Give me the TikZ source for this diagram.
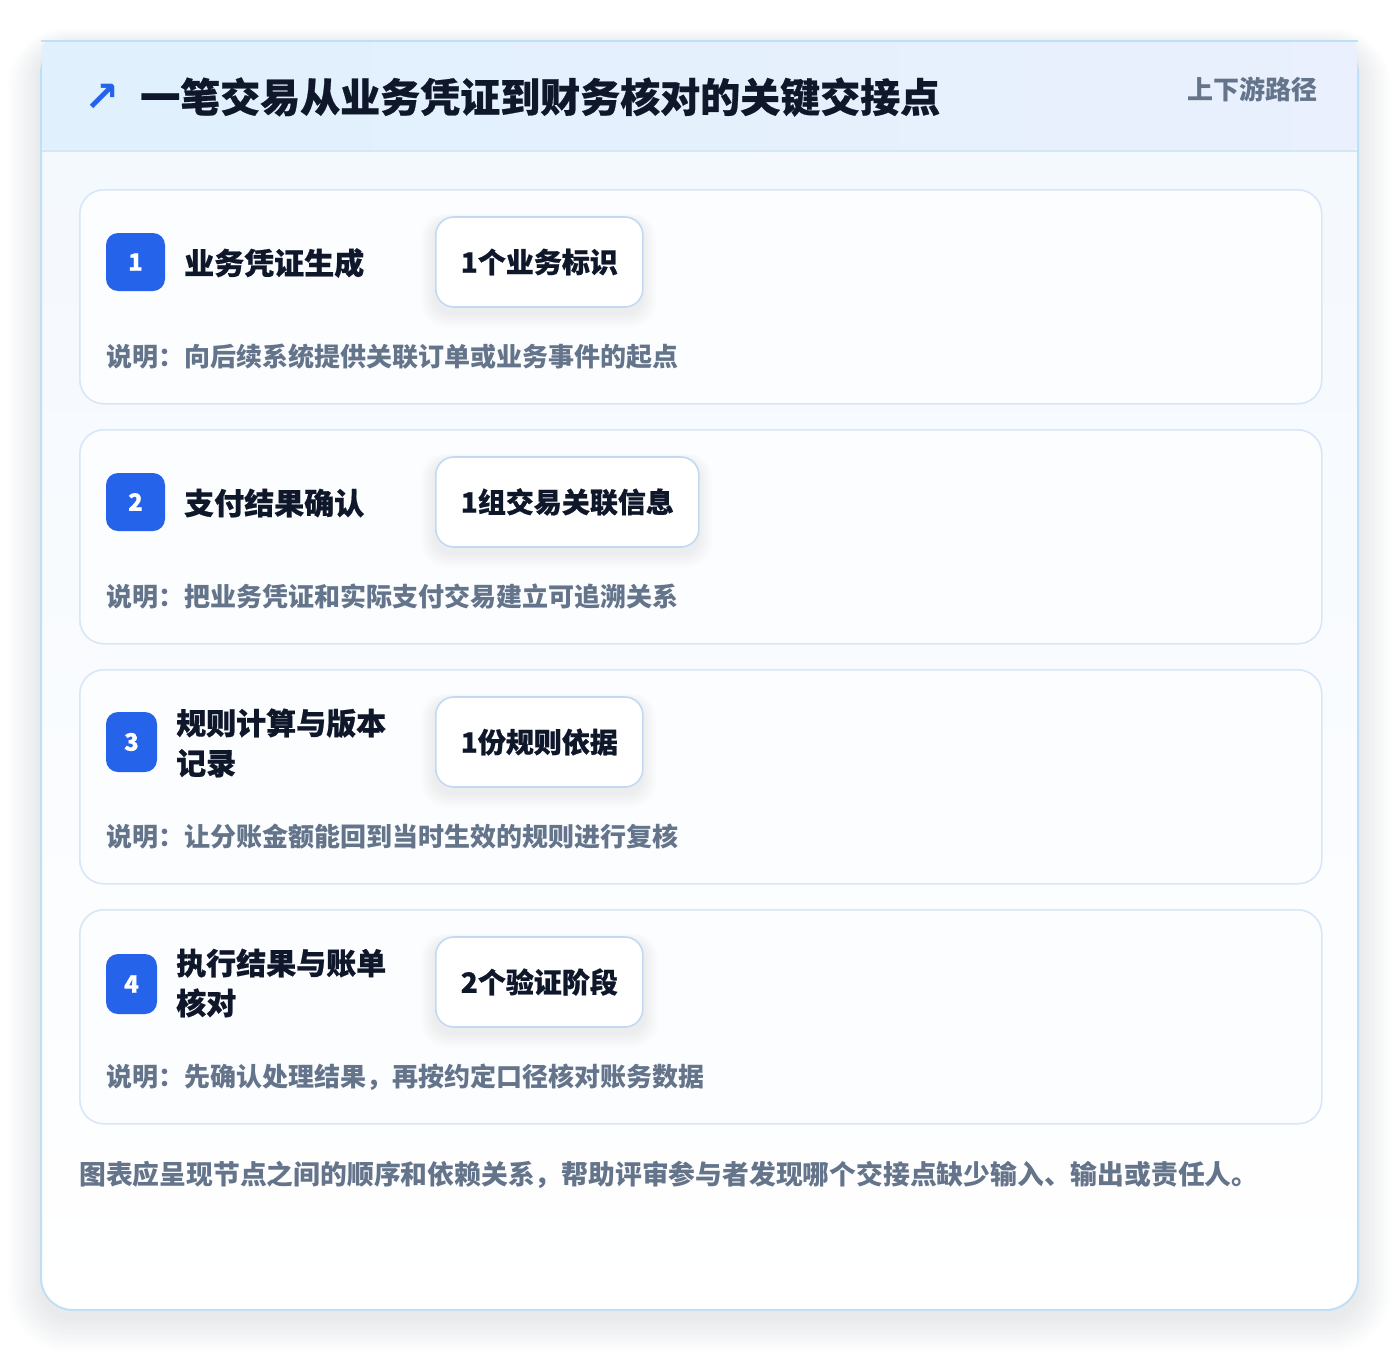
\documentclass[tikz,border=0pt]{standalone}
\usepackage{fontspec}
\setmainfont{Noto Sans CJK SC}
\newfontfamily\heavyfont{Noto Sans CJK SC}[BoldFeatures={FakeBold=0.6}]
\newfontfamily\symfont{DejaVu Sans}
\definecolor{titlecol}{HTML}{0F172A}
\definecolor{graytext}{HTML}{64748B}
\definecolor{accent}{HTML}{2563EB}
\definecolor{outerborder}{HTML}{BDE0F6}
\definecolor{hdrL}{HTML}{E0F0FD}
\definecolor{hdrR}{HTML}{EAF0FD}
\definecolor{hdrline}{HTML}{D3E7F7}
\definecolor{cardborder}{HTML}{D8E7F7}
\definecolor{cardfill}{HTML}{FBFDFF}
\definecolor{chipborder}{HTML}{C3D9F3}
\definecolor{outerTop}{HTML}{F3F8FE}
\definecolor{shadowcol}{HTML}{334155}
\tikzset{
  card/.style={draw=cardborder, line width=1.6pt, fill=cardfill, rounded corners=24pt,
    minimum width=1242pt, minimum height=214pt, inner sep=0pt, anchor=north west},
  badge/.style={fill=accent, rounded corners=12pt, text=white, font=\heavyfont\bfseries\fontsize{24}{24}\selectfont,
    inner sep=0pt},
  steptitle/.style={anchor=west, text=titlecol, font=\heavyfont\bfseries\fontsize{30}{40}\selectfont,
    align=left, inner sep=0pt},
  chip/.style={draw=chipborder, line width=1.6pt, fill=white, rounded corners=18pt,
    minimum height=90pt, inner xsep=25pt, anchor=west, text=titlecol,
    font=\heavyfont\bfseries\fontsize{28}{32}\selectfont},
  desc/.style={anchor=west, text=graytext, font=\bfseries\fontsize{26}{30}\selectfont, inner sep=0pt},
}
\newcommand{\chipshadow}[4]{% x1 y1 x2 y2
  \foreach \k in {1,...,8}{
    \fill[shadowcol, opacity=0.008, rounded corners=18pt+\k pt]
      (#1-\k*1.8, #2+4-\k*1.0) rectangle (#3+\k*1.8, #4+6+\k*1.8);
  }}
\begin{document}
\begin{tikzpicture}[x=1pt,y=-1pt]
\useasboundingbox (0,0) rectangle (1400,1352);
% outer shadow
\foreach \k in {1,...,14}{
  \fill[shadowcol, opacity=0.0065, rounded corners=32pt+\k*2pt]
    (41-\k*2.4, 41+4-\k*1.2) rectangle (1358+\k*2.4, 1310+8+\k*2.4);
}
% outer card
\path[draw=outerborder, line width=2pt, top color=outerTop, bottom color=white, rounded corners=32pt]
  (41,41) rectangle (1358,1310);
% header
\shade[left color=hdrL, right color=hdrR, rounded corners=6pt] (42,42) rectangle (1357,151);
\draw[outerborder, line width=2pt] (41,41) -- (1358,41);
\draw[hdrline, line width=2pt] (42,151) -- (1357,151);
\node[text=accent, font=\symfont\bfseries\fontsize{42}{42}\selectfont, inner sep=0pt] (icon) at (102,98) {↗};
\node[anchor=west, text=titlecol, font=\heavyfont\bfseries\fontsize{40}{48}\selectfont, inner sep=0pt] (title) at (140,97)
  {一笔交易从业务凭证到财务核对的关键交接点};
\node[anchor=east, text=graytext, font=\bfseries\fontsize{26}{30}\selectfont, inner sep=0pt] (path) at (1318,89)
  {上下游路径};
% card 1
\node[card] (c1) at (79,189) {};
\node[badge, minimum width=59pt, minimum height=58pt] (b1) at (135.5,262) {1};
\node[steptitle] (t1) at (184,263) {业务凭证生成};
\chipshadow{435}{217}{642}{307}
\node[chip] (p1) at (435,262) {1个业务标识};
\node[desc] (d1) at (106,357) {说明：向后续系统提供关联订单或业务事件的起点};
% card 2
\node[card] (c2) at (79,429) {};
\node[badge, minimum width=59pt, minimum height=58pt] (b2) at (135.5,502) {2};
\node[steptitle] (t2) at (184,503) {支付结果确认};
\chipshadow{435}{457}{698}{547}
\node[chip] (p2) at (435,502) {1组交易关联信息};
\node[desc] (d2) at (106,597) {说明：把业务凭证和实际支付交易建立可追溯关系};
% card 3
\node[card] (c3) at (79,669) {};
\node[badge, minimum width=51pt, minimum height=60pt] (b3) at (131.5,742) {3};
\node[steptitle] (t3) at (176,743) {规则计算与版本\\记录};
\chipshadow{435}{697}{642}{787}
\node[chip] (p3) at (435,742) {1份规则依据};
\node[desc] (d3) at (106,837) {说明：让分账金额能回到当时生效的规则进行复核};
% card 4
\node[card] (c4) at (79,909) {};
\node[badge, minimum width=51pt, minimum height=60pt] (b4) at (131.5,984) {4};
\node[steptitle] (t4) at (176,983) {执行结果与账单\\核对};
\chipshadow{435}{937}{644}{1027}
\node[chip] (p4) at (435,982) {2个验证阶段};
\node[desc] (d4) at (106,1077) {说明：先确认处理结果，再按约定口径核对账务数据};
% footer
\node[anchor=west, text=graytext, font=\bfseries\fontsize{26.8}{32}\selectfont, inner sep=0pt] (foot) at (79,1175)
  {图表应呈现节点之间的顺序和依赖关系，帮助评审参与者发现哪个交接点缺少输入、输出或责任人。};
\end{tikzpicture}
\end{document}
